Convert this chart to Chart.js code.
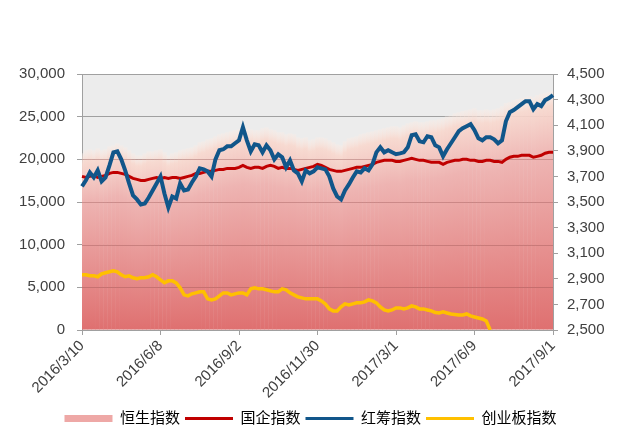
<!DOCTYPE html>
<html>
<head>
<meta charset="utf-8">
<script src="https://cdn.jsdelivr.net/npm/chart.js@4/dist/chart.umd.min.js"></script>
<style>
  body { margin: 0; background: #ffffff; }
  #wrap { width: 621px; height: 430px; }
</style>
</head>
<body>
<div id="wrap"><canvas id="indexChart" width="621" height="430"></canvas></div>
<script>
// tick labels on the date axis (one every STEP points)
const tickLabels = ['2016/3/10', '2016/6/8', '2016/9/2', '2016/11/30', '2017/3/1', '2017/6/9', '2017/9/1'];
const STEP = 20;

// 恒生指数 (left axis, drawn as gradient columns)
const hangSeng = [
  20710, 21060, 21180, 21060, 21290, 21060, 21180, 21530, 21650, 21880,
  21650, 21410, 21060, 20710, 20470, 20470, 20710, 20940, 20940, 21060,
  21180, 20820, 20470, 20710, 20820, 21060, 21180, 21290, 21410, 21650,
  22000, 22120, 22350, 22470, 22710, 22940, 23060, 23180, 23290, 23410,
  23530, 23760, 23650, 23530, 23410, 23410, 23650, 23760, 23530, 23410,
  23180, 23180, 22940, 23060, 22940, 22590, 22470, 22590, 22240, 22350,
  22590, 22590, 22470, 22240, 22000, 21760, 21650, 22120, 22470, 22590,
  22710, 22940, 23060, 23180, 23290, 23410, 23530, 23650, 23760, 23880,
  23880, 23760, 24000, 24240, 24350, 24470, 24350, 24350, 24470, 24590,
  24590, 24710, 24820, 25060, 25180, 25410, 25530, 25650, 25760, 25880,
  26000, 25760, 25760, 25880, 25760, 25880, 26000, 26240, 26590, 26710,
  26940, 27060, 27180, 27290, 27410, 27290, 27530, 27650, 27760, 27880, 28000
];

// 国企指数 (left axis)
const hsceiLine = [
  18000, 17880, 18000, 18120, 17880, 18000, 18120, 18350, 18470, 18470,
  18350, 18240, 18000, 17770, 17650, 17530, 17530, 17650, 17770, 17880,
  17770, 17880, 17770, 17880, 17880, 17770, 17880, 18000, 18120, 18350,
  18350, 18470, 18590, 18590, 18710, 18820, 18820, 18940, 18940, 18940,
  19060, 19290, 19060, 18940, 19060, 19060, 18940, 19180, 19290, 19180,
  18940, 19060, 18940, 18940, 18820, 18710, 18820, 18940, 19060, 19180,
  19410, 19290, 19060, 18820, 18710, 18590, 18590, 18710, 18820, 18940,
  19060, 19060, 19180, 19290, 19410, 19650, 19760, 19880, 19880, 19880,
  19760, 19760, 19880, 20000, 20120, 20000, 19880, 19880, 19760, 19650,
  19650, 19650, 19410, 19650, 19760, 19880, 19880, 20000, 20000, 19880,
  19880, 19760, 19760, 19880, 19880, 19760, 19760, 19650, 20000, 20240,
  20350, 20350, 20470, 20470, 20470, 20240, 20350, 20470, 20710, 20820, 20820
];

// 红筹指数 (right axis)
const redChip = [
  3622, 3669, 3731, 3692, 3747, 3661, 3692, 3786, 3888, 3896,
  3833, 3747, 3645, 3551, 3520, 3480, 3488, 3535, 3590, 3645,
  3700, 3567, 3457, 3543, 3527, 3645, 3590, 3598, 3653, 3700,
  3763, 3755, 3739, 3700, 3833, 3904, 3912, 3935, 3935, 3959,
  3982, 4084, 3982, 3896, 3951, 3943, 3888, 3943, 3904, 3833,
  3873, 3849, 3771, 3825, 3747, 3724, 3661, 3747, 3724, 3739,
  3771, 3763, 3755, 3700, 3606, 3543, 3520, 3590, 3637, 3692,
  3739, 3731, 3763, 3747, 3794, 3888, 3927, 3888, 3904, 3888,
  3873, 3880, 3888, 3927, 4022, 4029, 3974, 3967, 4014, 4006,
  3943, 3927, 3857, 3912, 3959, 4006, 4053, 4076, 4092, 4108,
  4061, 3998, 3982, 4006, 4006, 3990, 3959, 3982, 4131, 4202,
  4218, 4241, 4265, 4288, 4288, 4225, 4265, 4249, 4296, 4312, 4335
];

// 创业板指数 (left axis, series stops early)
const chiNext = [
  6470, 6470, 6350, 6350, 6240, 6590, 6710, 6820, 6940, 6820,
  6470, 6240, 6350, 6120, 6000, 6120, 6120, 6240, 6470, 6240,
  5880, 5530, 5760, 5760, 5530, 4940, 4120, 4000, 4240, 4350,
  4470, 4470, 3650, 3530, 3650, 4000, 4350, 4350, 4120, 4240,
  4350, 4350, 4120, 4820, 4940, 4820, 4820, 4710, 4590, 4470,
  4470, 4820, 4710, 4350, 4120, 3880, 3760, 3650, 3650, 3650,
  3650, 3410, 3060, 2470, 2240, 2240, 2710, 3060, 2940, 3060,
  3180, 3180, 3290, 3530, 3410, 3180, 2710, 2350, 2240, 2350,
  2590, 2590, 2470, 2590, 2820, 2710, 2470, 2470, 2350, 2240,
  2040, 2000, 2120, 2000, 1880, 1820, 1760, 1760, 1880, 1650,
  1530, 1410, 1290, 1060, 0, null, null, null, null, null,
  null, null, null, null, null, null, null, null, null, null, null
];

const labels = hangSeng.map((_, i) => (i % STEP === 0 ? tickLabels[i / STEP] : ''));

const FONT = '"Liberation Sans", "Noto Sans CJK SC", Arial, sans-serif';
const TEXT = '#404040';
const GRID = '#a0a0a0';

Chart.defaults.font.family = FONT;
Chart.defaults.color = TEXT;

// each column fades from pale peach at its top to red at the base
function columnFill(context) {
  const chart = context.chart;
  const ya = chart.scales.y;
  if (!chart.chartArea || !ya || context.raw == null) return 'rgb(230,140,140)';
  const top = ya.getPixelForValue(context.raw);
  const base = ya.getPixelForValue(0);
  const g = chart.ctx.createLinearGradient(0, top, 0, base);
  g.addColorStop(0, 'rgba(252,236,228,0.35)');
  g.addColorStop(0.06, 'rgba(248,216,206,0.9)');
  g.addColorStop(0.28, 'rgb(238,180,178)');
  g.addColorStop(1, 'rgb(223,112,112)');
  return g;
}

const plotBackground = {
  id: 'plotBackground',
  beforeDraw(chart) {
    const { ctx, chartArea } = chart;
    ctx.save();
    ctx.fillStyle = '#ececec';
    ctx.fillRect(chartArea.left, chartArea.top, chartArea.right - chartArea.left, chartArea.bottom - chartArea.top);
    ctx.restore();
  }
};

// gridlines that stay visible through the columns (those under the lowest column)
const gridThrough = {
  id: 'gridThrough',
  afterDatasetDraw(chart, args) {
    if (args.index !== 0) return;
    const { ctx, chartArea, scales } = chart;
    const floor = Math.min(...hangSeng);
    ctx.save();
    ctx.strokeStyle = 'rgba(140,70,70,0.33)';
    ctx.lineWidth = 1;
    scales.y.ticks.forEach(t => {
      if (t.value <= 0 || t.value > floor) return;
      const y = Math.round(scales.y.getPixelForValue(t.value)) + 0.5;
      ctx.beginPath();
      ctx.moveTo(chartArea.left, y);
      ctx.lineTo(chartArea.right, y);
      ctx.stroke();
    });
    ctx.restore();
  }
};

const legendItems = [
  { text: '恒生指数', pointStyle: 'rect', fillStyle: 'rgb(238,168,166)', strokeStyle: 'rgba(0,0,0,0)', lineWidth: 0, hidden: false, datasetIndex: 0 },
  { text: '国企指数', pointStyle: 'line', fillStyle: '#c00000', strokeStyle: '#c00000', lineWidth: 3, hidden: false, datasetIndex: 1 },
  { text: '红筹指数', pointStyle: 'line', fillStyle: '#11568a', strokeStyle: '#11568a', lineWidth: 3, hidden: false, datasetIndex: 2 },
  { text: '创业板指数', pointStyle: 'line', fillStyle: '#ffc000', strokeStyle: '#ffc000', lineWidth: 3, hidden: false, datasetIndex: 3 }
];

const fmt = v => Number(v).toLocaleString('en-US');

new Chart(document.getElementById('indexChart'), {
  type: 'bar',
  data: {
    labels: labels,
    datasets: [
      {
        type: 'bar',
        label: '恒生指数',
        data: hangSeng,
        yAxisID: 'y',
        backgroundColor: columnFill,
        borderWidth: 0,
        barPercentage: 1.12,
        categoryPercentage: 1,
        order: 10
      },
      {
        type: 'line',
        label: '国企指数',
        data: hsceiLine,
        yAxisID: 'y',
        borderColor: '#c00000',
        borderWidth: 3,
        pointRadius: 0,
        tension: 0,
        order: 3
      },
      {
        type: 'line',
        label: '红筹指数',
        data: redChip,
        yAxisID: 'y2',
        borderColor: '#11568a',
        borderWidth: 4,
        pointRadius: 0,
        tension: 0,
        order: 2
      },
      {
        type: 'line',
        label: '创业板指数',
        data: chiNext,
        yAxisID: 'y',
        borderColor: '#ffc000',
        borderWidth: 3.5,
        pointRadius: 0,
        tension: 0,
        spanGaps: false,
        order: 1
      }
    ]
  },
  options: {
    responsive: false,
    animation: false,
    events: [],
    layout: { padding: { top: 74, left: 0, right: 0, bottom: -6 } },
    plugins: {
      tooltip: { enabled: false },
      legend: {
        position: 'bottom',
        labels: {
          usePointStyle: true,
          pointStyleWidth: 48,
          boxHeight: 7,
          padding: 5,
          color: TEXT,
          font: { size: 15 },
          generateLabels: () => legendItems
        }
      }
    },
    scales: {
      x: {
        offset: false,
        grid: {
          offset: false,
          drawOnChartArea: false,
          tickLength: 5,
          tickColor: c => (c.index % STEP === 0 ? GRID : 'rgba(0,0,0,0)')
        },
        border: { color: GRID },
        ticks: {
          autoSkip: false,
          maxRotation: 45,
          minRotation: 45,
          padding: 2,
          color: TEXT,
          font: { size: 15 }
        },
        afterFit: s => { s.height = 76; }
      },
      y: {
        position: 'left',
        min: 0,
        max: 30000,
        ticks: { stepSize: 5000, padding: 12, color: TEXT, font: { size: 15 }, callback: fmt },
        grid: { color: GRID, tickLength: 5 },
        border: { color: GRID },
        afterFit: s => { s.width = 82; }
      },
      y2: {
        position: 'right',
        min: 2500,
        max: 4500,
        ticks: { stepSize: 200, padding: 9, color: TEXT, font: { size: 15 }, callback: fmt },
        grid: { drawOnChartArea: false, color: GRID, tickLength: 5 },
        border: { color: GRID },
        afterFit: s => { s.width = 68; }
      }
    }
  },
  plugins: [plotBackground, gridThrough]
});
</script>
</body>
</html>
